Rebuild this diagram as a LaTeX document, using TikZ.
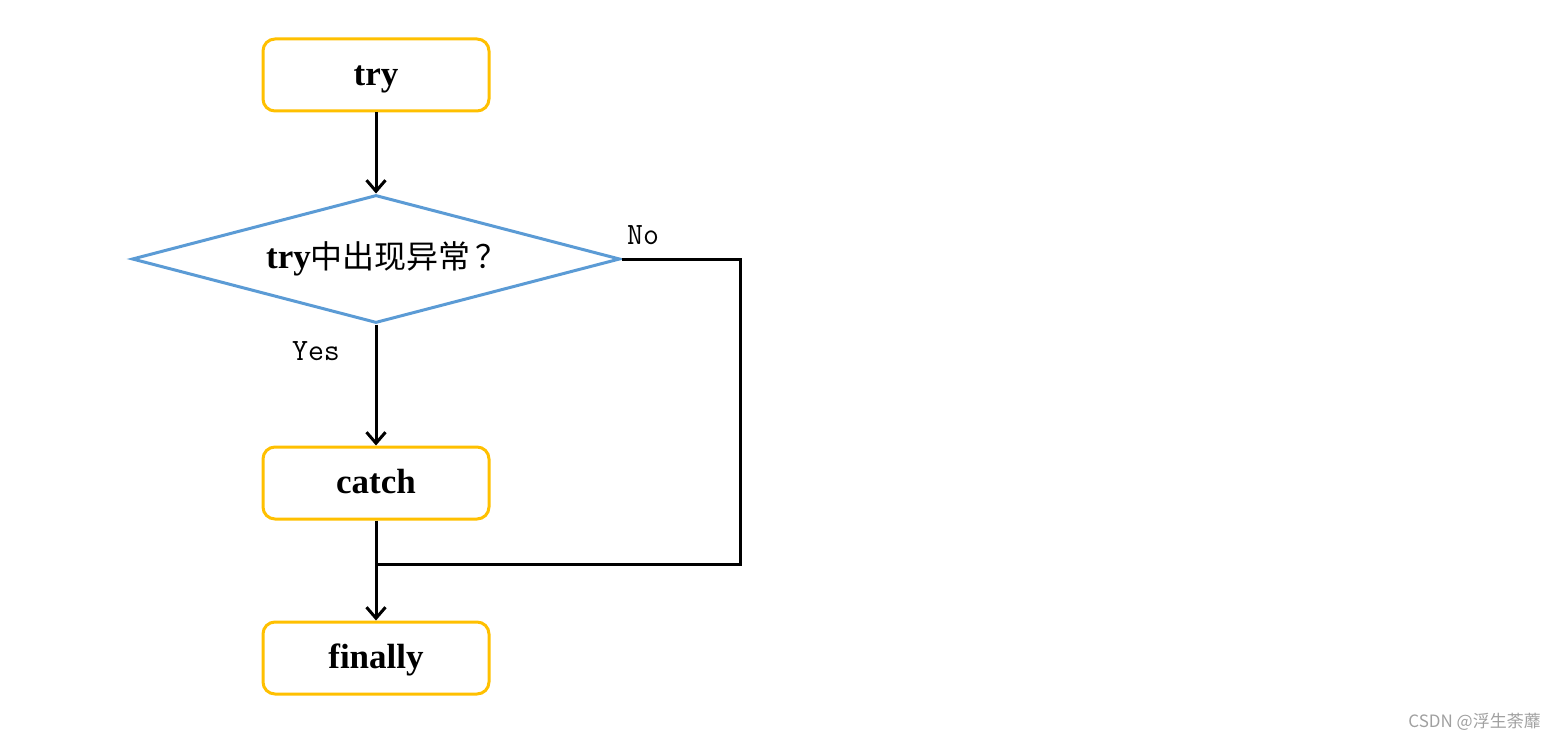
\documentclass[tikz,border=0pt]{standalone}
\usepackage{fontspec}
\setmainfont{Liberation Serif}
\newfontfamily\cjk{Noto Sans CJK SC}
\usetikzlibrary{shapes.geometric,arrows.meta}
\definecolor{boxorange}{HTML}{FFC000}
\definecolor{diablue}{HTML}{5B9BD5}
\definecolor{wmgray}{HTML}{A0A0A0}
\tikzset{
  stepbox/.style={draw=boxorange, line width=3pt, rounded corners=12pt, fill=white,
    minimum width=226pt, minimum height=72pt, inner sep=0pt,
    text height=27pt, text depth=6pt,
    font=\fontsize{35}{40}\selectfont\bfseries},
  decision/.style={draw=diablue, line width=3pt, diamond, aspect=3.8, fill=white,
    minimum width=488pt, minimum height=128pt, inner sep=0pt},
  flow/.style={line width=3pt, draw=black},
  flowarrow/.style={flow, -{Straight Barb[length=11pt,width=19pt,line width=3pt]}},
  lbl/.style={font=\fontsize{31}{34}\selectfont\ttfamily, inner sep=0pt}
}
\begin{document}
\begin{tikzpicture}[x=1pt,y=-1pt]
\useasboundingbox (0,0) rectangle (1556,741);
\node[stepbox] (try) at (376,75) {try};
\node[decision] (dec) at (376,259) {\raisebox{2pt}{\hspace*{22pt}\fontsize{35}{40}\selectfont\bfseries try\mdseries\cjk\fontsize{32}{36}\selectfont 中出现异常\kern5pt？}};
\node[stepbox] (catch) at (376,483) {catch};
\node[stepbox] (fin) at (376,658) {finally};
\coordinate (nr) at (740,259);
\coordinate (jn) at (376,564);
\draw[flowarrow] (try.south) -- (dec.north);
\draw[flowarrow] (dec.south) -- (catch.north);
\draw[flowarrow] (catch.south) -- (fin.north);
\draw[flow, line join=miter] (dec.east) -- (nr) |- (jn);
\node[lbl] (no) at (643,235) {No};
\node[lbl] (yes) at (316,351) {Yes};
\node[font=\cjk\fontsize{17}{20}\selectfont, text=wmgray, anchor=east, inner sep=0pt] (wm) at (1541,722) {CSDN @浮生荼蘼};
\end{tikzpicture}
\end{document}
